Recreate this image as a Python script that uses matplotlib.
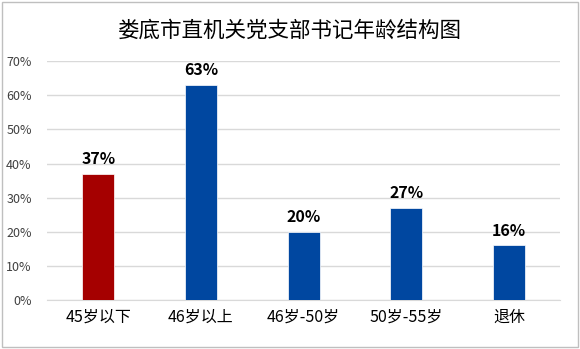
import matplotlib.pyplot as plt
from matplotlib.patches import Rectangle

plt.rcParams['font.family'] = ['Noto Sans CJK SC', 'DejaVu Sans']

# -----------------------------
# Data
# -----------------------------
categories = ["45岁以下", "46岁以上", "46岁-50岁", "50岁-55岁", "退休"]
values = [0.37, 0.63, 0.20, 0.27, 0.16]
bar_colors = ["#A50000", "#0047A0", "#0047A0", "#0047A0", "#0047A0"]
y_ticks = [0, 0.1, 0.2, 0.3, 0.4, 0.5, 0.6, 0.7]

# -----------------------------
# Figure
# -----------------------------
fig = plt.figure(figsize=(5.8, 3.49), dpi=100)
fig.patches.append(Rectangle((0.004, 0.006), 0.992, 0.988, transform=fig.transFigure,
                             fill=False, edgecolor="#BFBFBF", linewidth=1))

ax = fig.add_axes([0.081, 0.140, 0.885, 0.685])

x = range(len(categories))
ax.bar(x, values, width=0.31, color=bar_colors, edgecolor="white", linewidth=0.5, zorder=3)

for i, v in zip(x, values):
    ax.text(i, v + 0.02, f"{v*100:.0f}%", ha="center", va="bottom",
            fontsize=11.5, fontweight="bold", color="black")

ax.set_xlim(-0.5, len(categories) - 0.5)
ax.set_ylim(0, 0.7)
ax.set_yticks(y_ticks)
ax.set_yticklabels([f"{t*100:.0f}%" for t in y_ticks], fontsize=9, color="#404040")
ax.set_xticks(list(x))
ax.set_xticklabels(categories, fontsize=11.5, color="black", fontweight="medium")

ax.yaxis.grid(True, color="#D9D9D9", linewidth=1, zorder=0)
ax.tick_params(axis="both", length=0)
ax.tick_params(axis="y", pad=11)
ax.tick_params(axis="x", pad=6)
for side in ["top", "right", "left"]:
    ax.spines[side].set_visible(False)
ax.spines["bottom"].set_color("#D9D9D9")

fig.suptitle("娄底市直机关党支部书记年龄结构图", x=0.5, y=0.945, fontsize=15.5, fontweight="medium")

fig.savefig("out.png", dpi=100)
